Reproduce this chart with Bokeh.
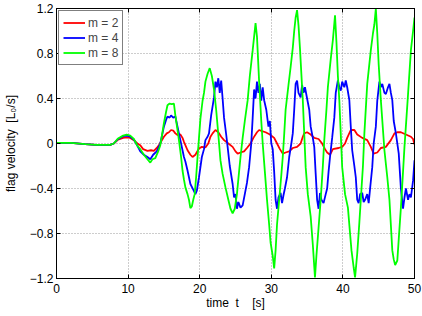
from bokeh.plotting import figure
from bokeh.models import LinearAxis, FixedTicker, Legend, LegendItem, Range1d
from bokeh.embed import file_html
from bokeh.resources import INLINE

# ---------------- data ----------------
x_ticks = [0, 10, 20, 30, 40, 50]
x_tick_labels = ["0", "10", "20", "30", "40", "50"]
y_ticks = [-1.2, -0.8, -0.4, 0, 0.4, 0.8, 1.2]
y_tick_labels = ["\u22121.2", "\u22120.8", "\u22120.4", "0", "0.4", "0.8", "1.2"]
series_names = ["m = 2", "m = 4", "m = 8"]
series_colors = ["#ff0000", "#0000ff", "#00ff00"]
x_label = "time \u00a0t \u00a0 \u00a0[s]"
y_label = "flag velocity \u00a0[L\u2080/s]"

# (time, velocity) samples
m2_points = [
    (0, 0.005), (2, 0.005), (4, -0.005), (5.5, -0.012), (7.5, -0.012), (8, 0.0),
    (8.6, 0.035), (9.3, 0.05), (9.8, 0.055), (10.3, 0.05), (10.8, 0.03), (11.3, 0.0),
    (11.7, -0.015), (12.1, -0.05), (12.7, -0.065), (13.2, -0.06), (13.6, -0.065),
    (14.0, -0.04), (14.3, -0.015), (15.0, 0.06), (15.4, 0.09), (15.7, 0.1), (16.0, 0.12),
    (16.3, 0.115), (16.6, 0.09), (16.9, 0.075), (17.3, 0.08), (17.6, 0.05), (17.8, 0.015),
    (18.3, -0.06), (18.7, -0.1), (19.0, -0.12), (19.4, -0.1), (19.9, -0.045), (20.3, -0.03),
    (20.8, -0.035), (21.2, 0.0), (21.5, 0.06), (21.8, 0.09), (22.2, 0.12), (22.6, 0.1),
    (23.0, 0.06), (23.4, 0.03), (24.0, 0.0), (24.6, -0.03), (25.0, -0.07), (25.3, -0.09),
    (25.7, -0.08), (26.2, -0.07), (26.6, -0.04), (27.1, 0.0), (27.5, 0.05), (28.0, 0.1),
    (28.3, 0.12), (28.7, 0.11), (29.2, 0.1), (29.8, 0.08), (30.4, 0.05), (30.8, 0.0),
    (31.2, -0.05), (31.6, -0.09), (32.0, -0.08), (32.5, -0.07), (33.0, -0.04), (33.6, -0.03),
    (34.1, 0.0), (34.4, 0.06), (34.6, 0.09), (35.0, 0.1), (35.5, 0.08), (36.0, 0.05),
    (36.6, 0.04), (37.1, 0.0), (37.5, -0.05), (37.8, -0.08), (38.2, -0.1), (38.6, -0.05),
    (39.4, -0.04), (39.9, -0.03), (40.3, 0.0), (40.6, 0.05), (41.1, 0.12), (41.6, 0.12),
    (42.0, 0.08), (42.7, 0.05), (43.4, 0.03), (43.9, -0.03), (44.3, -0.09), (44.8, -0.08),
    (45.3, -0.04), (46.0, -0.03), (46.7, 0.03), (47.2, 0.09), (47.6, 0.1), (48.1, 0.1),
    (48.8, 0.08), (49.5, 0.06), (49.8, 0.04), (50.0, -0.01),
]

m4_points = [
    (0, 0.005), (2, 0.005), (4, -0.005), (5.5, -0.012), (7.5, -0.012), (8, 0.0),
    (8.6, 0.04), (9.3, 0.065), (9.8, 0.07), (10.3, 0.06), (10.8, 0.035), (11.3, -0.02),
    (11.7, -0.07), (12.2, -0.1), (12.7, -0.12), (13.1, -0.14), (13.5, -0.1), (14.0, -0.07),
    (14.5, 0.0), (15.0, 0.15), (15.3, 0.21), (15.5, 0.24), (15.8, 0.23), (16.0, 0.25),
    (16.3, 0.23), (16.6, 0.24), (16.9, 0.15), (17.3, 0.03), (17.6, -0.06), (17.8, -0.12),
    (18.0, -0.16), (18.3, -0.24), (18.5, -0.3), (18.7, -0.36), (19.1, -0.41), (19.4, -0.45),
    (19.6, -0.42), (19.9, -0.3), (20.3, -0.12), (20.6, -0.05), (20.8, 0.03), (21.1, 0.06),
    (21.3, 0.09), (21.6, 0.25), (22.0, 0.41), (22.2, 0.55), (22.4, 0.5), (22.6, 0.58),
    (22.8, 0.45), (23.0, 0.56), (23.2, 0.4), (23.4, 0.23), (23.7, 0.08), (23.9, -0.03),
    (24.2, -0.2), (24.6, -0.36), (24.8, -0.48), (25.0, -0.45), (25.2, -0.58), (25.4, -0.52),
    (25.7, -0.57), (26.0, -0.55), (26.3, -0.45), (26.6, -0.35), (26.9, -0.21), (27.2, 0.0),
    (27.4, 0.23), (27.6, 0.48), (27.8, 0.4), (28.0, 0.55), (28.2, 0.45), (28.4, 0.53),
    (28.6, 0.38), (28.8, 0.5), (29.0, 0.385), (29.3, 0.3), (29.6, 0.15), (29.8, 0.2),
    (30.0, 0.0), (30.2, -0.05), (30.4, -0.25), (30.6, -0.5), (30.8, -0.58), (31.0, -0.48),
    (31.3, -0.44), (31.5, -0.53), (31.7, -0.46), (31.9, -0.4), (32.2, -0.3), (32.5, -0.12),
    (32.8, 0.0), (33.0, 0.09), (33.2, 0.3), (33.4, 0.53), (33.6, 0.56), (33.8, 0.45),
    (34.1, 0.41), (34.3, 0.52), (34.5, 0.45), (34.7, 0.5), (35.0, 0.4), (35.3, 0.3),
    (35.5, 0.15), (35.8, 0.05), (36.0, -0.03), (36.2, -0.27), (36.4, -0.5), (36.6, -0.58),
    (36.8, -0.44), (37.0, -0.5), (37.3, -0.53), (37.6, -0.45), (37.8, -0.4), (38.0, -0.25),
    (38.2, -0.12), (38.5, 0.05), (38.8, 0.23), (39.0, 0.45), (39.3, 0.56), (39.5, 0.5),
    (39.7, 0.47), (39.9, 0.55), (40.2, 0.5), (40.4, 0.56), (40.6, 0.5), (40.9, 0.385),
    (41.1, 0.15), (41.3, -0.06), (41.6, -0.2), (41.8, -0.3), (42.0, -0.5), (42.2, -0.53),
    (42.4, -0.45), (42.7, -0.44), (42.9, -0.52), (43.1, -0.5), (43.4, -0.45), (43.6, -0.53),
    (43.8, -0.4), (44.1, -0.21), (44.3, 0.0), (44.6, 0.15), (44.8, 0.38), (45.1, 0.55),
    (45.3, 0.5), (45.5, 0.53), (45.8, 0.45), (46.0, 0.44), (46.3, 0.5), (46.5, 0.53),
    (46.7, 0.45), (46.9, 0.385), (47.1, 0.2), (47.4, 0.09), (47.8, -0.09), (48.1, -0.4),
    (48.4, -0.58), (48.6, -0.48), (48.8, -0.4), (49.1, -0.5), (49.3, -0.45), (49.5, -0.48),
    (49.8, -0.33), (50.0, -0.15),
]

m8_points = [
    (0, 0.005), (2, 0.005), (4, -0.005), (5.5, -0.012), (7.5, -0.012), (8, 0.0),
    (8.6, 0.045), (9.3, 0.07), (9.8, 0.078), (10.3, 0.07), (10.8, 0.04), (11.3, -0.02),
    (11.7, -0.05), (12.2, -0.1), (12.7, -0.14), (13.1, -0.17), (13.4, -0.14), (13.8, -0.13),
    (14.2, -0.07), (14.5, -0.015), (14.8, 0.1), (15.0, 0.18), (15.3, 0.28), (15.5, 0.34),
    (15.8, 0.355), (16.1, 0.35), (16.4, 0.355), (16.6, 0.25), (16.9, 0.12), (17.1, 0.03),
    (17.4, -0.12), (17.6, -0.24), (17.8, -0.32), (18.0, -0.39), (18.3, -0.45), (18.5, -0.5),
    (18.7, -0.575), (18.9, -0.56), (19.1, -0.5), (19.3, -0.45), (19.5, -0.3), (19.7, -0.12),
    (19.9, 0.05), (20.1, 0.22), (20.4, 0.38), (20.6, 0.45), (20.8, 0.55), (21.1, 0.62),
    (21.4, 0.67), (21.7, 0.6), (22.0, 0.48), (22.3, 0.3), (22.6, 0.08), (22.9, -0.15),
    (23.2, -0.27), (23.6, -0.39), (24.0, -0.5), (24.3, -0.58), (24.6, -0.62), (24.9, -0.58),
    (25.2, -0.45), (25.5, -0.25), (25.7, -0.12), (26.0, 0.05), (26.3, 0.2), (26.7, 0.385),
    (27.0, 0.6), (27.4, 0.83), (27.6, 0.95), (27.8, 1.07), (28.0, 0.95), (28.3, 0.55),
    (28.6, 0.2), (28.8, 0.0), (29.1, -0.25), (29.4, -0.5), (29.7, -0.72), (29.9, -0.88),
    (30.2, -1.0), (30.4, -1.11), (30.6, -0.95), (30.8, -0.72), (31.1, -0.5), (31.4, -0.28),
    (31.6, -0.12), (31.8, 0.08), (32.0, 0.3), (32.4, 0.52), (32.7, 0.68), (33.0, 0.85),
    (33.2, 1.0), (33.4, 1.12), (33.6, 1.185), (33.8, 1.05), (34.0, 0.85), (34.4, 0.385),
    (34.8, -0.21), (35.1, -0.45), (35.5, -0.65), (35.8, -0.9), (36.1, -1.19), (36.3, -1.0),
    (36.6, -0.75), (36.9, -0.5), (37.2, -0.2), (37.4, 0.03), (37.7, 0.3), (37.9, 0.5),
    (38.3, 0.75), (38.6, 0.92), (38.9, 1.14), (39.1, 0.9), (39.3, 0.6), (39.5, 0.385),
    (39.9, -0.21), (40.3, -0.45), (40.7, -0.57), (41.0, -0.8), (41.2, -0.95), (41.5, -1.1),
    (41.7, -1.19), (42.0, -0.98), (42.3, -0.7), (42.5, -0.5), (42.8, -0.2), (43.0, 0.09),
    (43.4, 0.53), (43.9, 0.83), (44.2, 0.98), (44.4, 1.06), (44.6, 1.2), (44.8, 0.98),
    (45.0, 0.7), (45.3, 0.385), (45.8, -0.06), (46.2, -0.3), (46.5, -0.5), (46.9, -0.95),
    (47.1, -1.03), (47.3, -1.08), (47.6, -1.04), (47.8, -0.85), (48.1, -0.57), (48.4, -0.25),
    (48.6, -0.03), (48.9, 0.25), (49.1, 0.44), (49.5, 0.83), (49.8, 1.0), (50.0, 1.12),
]

series_points = [m2_points, m4_points, m8_points]

FONT = "Liberation Sans"

p = figure(
    width=422, height=316,
    output_backend="svg", toolbar_location=None,
    x_range=Range1d(0, 50), y_range=Range1d(-1.2, 1.2),
    min_border_left=56, min_border_right=8, min_border_top=8, min_border_bottom=38,
)
p.background_fill_color = "white"
p.border_fill_color = "white"
p.outline_line_color = "black"
p.outline_line_width = 1

# grid
for g in (p.xgrid, p.ygrid):
    g.grid_line_color = "#9a9a9a"
    g.grid_line_dash = "1 2"
    g.grid_line_width = 1
p.xgrid.ticker = FixedTicker(ticks=x_ticks)
p.ygrid.ticker = FixedTicker(ticks=y_ticks)

x_over = {t: s for t, s in zip(x_ticks, x_tick_labels)}
y_over = {t: s for t, s in zip(y_ticks, y_tick_labels)}

def style_axis(ax, ticks, overrides, show_labels):
    ax.ticker = FixedTicker(ticks=ticks)
    ax.axis_line_color = "black"
    ax.axis_line_width = 1
    ax.major_tick_in = 4
    ax.major_tick_out = 0
    ax.major_tick_line_color = "black"
    ax.minor_tick_line_color = None
    ax.major_label_text_font = FONT
    ax.axis_label_text_font = FONT
    ax.axis_label_text_font_style = "normal"
    ax.axis_label_text_color = "black"
    if show_labels:
        ax.major_label_overrides = overrides
        ax.major_label_text_color = "black"
        ax.major_label_text_font_size = "12px"
        ax.axis_label_text_font_size = "12px"
    else:
        ax.major_label_text_color = None
        ax.major_label_text_font_size = "1px"
        ax.major_label_standoff = 0
        ax.axis_label = None

xa = p.xaxis[0]
ya = p.yaxis[0]
style_axis(xa, x_ticks, x_over, True)
style_axis(ya, y_ticks, y_over, True)
xa.axis_label = x_label
ya.axis_label = y_label
xa.major_label_standoff = 5
xa.axis_label_standoff = 0
ya.major_label_standoff = 3
ya.axis_label_standoff = 9

top_ax = LinearAxis()
right_ax = LinearAxis()
style_axis(top_ax, x_ticks, x_over, False)
style_axis(right_ax, y_ticks, y_over, False)
p.add_layout(top_ax, "above")
p.add_layout(right_ax, "right")

renderers = []
for pts, col in zip(series_points, series_colors):
    ts = [a for a, b in pts]
    vs = [b for a, b in pts]
    r = p.line(ts, vs, line_color=col, line_width=1.8)
    renderers.append(r)

legend = Legend(
    items=[LegendItem(label=n, renderers=[r]) for n, r in zip(series_names, renderers)],
    location="top_left",
    border_line_color="black", border_line_width=1,
    background_fill_color="white", background_fill_alpha=1,
    label_text_font=FONT, label_text_font_size="12px",
    glyph_width=22, glyph_height=15, label_height=15, label_standoff=3,
    spacing=0, padding=4, margin=2,
)
p.add_layout(legend)

open("out.html", "w").write(file_html(p, INLINE))
